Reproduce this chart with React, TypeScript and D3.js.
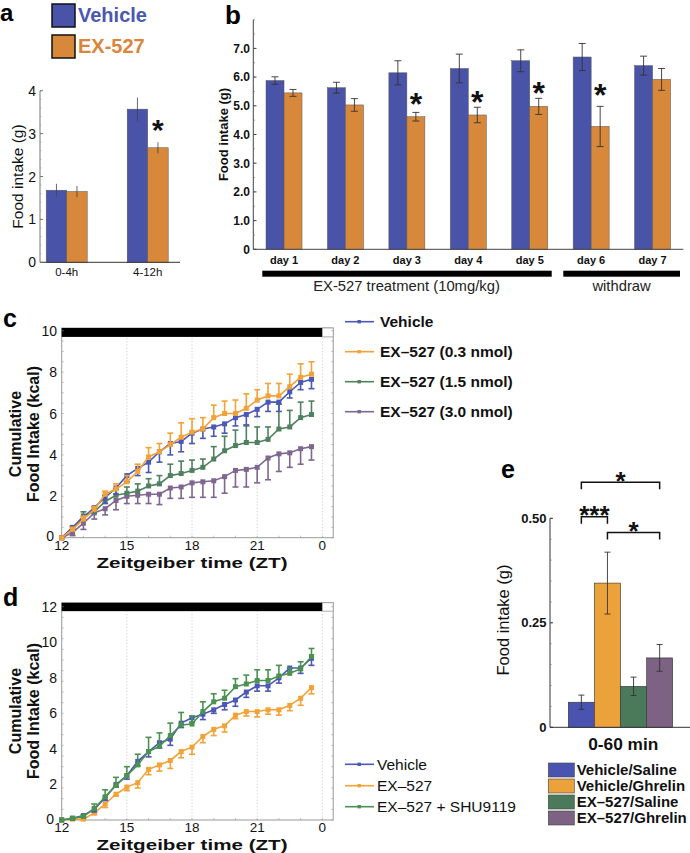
import React from 'react';
import * as d3 from 'd3';

const FONT = '"Liberation Sans", Arial, Helvetica, sans-serif';

// ---------- Panel a ----------
const A_GROUPS = ['0-4h', '4-12h'];
const A_VEH = [1.68, 3.57];
const A_VEH_ERR = [0.15, 0.27];
const A_EX = [1.65, 2.67];
const A_EX_ERR = [0.13, 0.13];
const A_Y_TICKS = [0, 1, 2, 3, 4];
const A_STARS = [null, 3.25];

// ---------- Panel b ----------
const B_DAYS = ['day 1', 'day 2', 'day 3', 'day 4', 'day 5', 'day 6', 'day 7'];
const B_VEH = [5.88, 5.63, 6.15, 6.3, 6.57, 6.7, 6.4];
const B_VEH_ERR = [0.13, 0.19, 0.42, 0.5, 0.38, 0.47, 0.33];
const B_EX = [5.45, 5.03, 4.62, 4.68, 4.98, 4.28, 5.92];
const B_EX_ERR = [0.12, 0.22, 0.15, 0.27, 0.28, 0.7, 0.38];
const B_STARS = [null, null, 5.32, 5.4, 5.72, 5.64, null];
const B_Y_TICKS = [0, 1, 2, 3, 4, 5, 6, 7];
const B_Y_LABELS = ['0', '1.0', '2.0', '3.0', '4.0', '5.0', '6.0', '7.0'];

// ---------- Panels c / d (shared time axis) ----------
const ZT = [12, 12.5, 13, 13.5, 14, 14.5, 15, 15.5, 16, 16.5, 17, 17.5, 18, 18.5, 19, 19.5, 20, 20.5, 21, 21.5, 22, 22.5, 23, 23.5];
const ZT_TICKS = [12, 15, 18, 21, 24];
const ZT_TICK_LABELS = ['12', '15', '18', '21', '0'];

const C_VEH = [0, 0.5, 1.0, 1.45, 1.95, 2.4, 3.0, 3.35, 3.65, 4.15, 4.55, 4.65, 5.05, 5.25, 5.35, 5.5, 5.8, 5.95, 6.2, 6.55, 6.55, 7.05, 7.5, 7.65];
const C_VEH_ERR = [0, 0.1, 0.15, 0.2, 0.3, 0.3, 0.3, 0.35, 0.5, 0.5, 0.55, 0.5, 0.5, 0.45, 0.45, 0.45, 0.4, 0.5, 0.35, 0.45, 0.45, 0.3, 0.35, 0.45];
const C_EX03 = [0, 0.4, 0.9, 1.35, 2.1, 2.35, 2.7, 3.2, 3.9, 4.15, 4.5, 4.85, 5.1, 5.25, 5.8, 6.0, 6.0, 6.25, 6.65, 6.85, 6.85, 7.3, 7.75, 7.9];
const C_EX03_ERR = [0, 0.1, 0.15, 0.15, 0.15, 0.25, 0.3, 0.35, 0.45, 0.4, 0.55, 0.7, 0.65, 0.55, 0.6, 0.6, 0.65, 0.7, 0.5, 0.6, 0.6, 0.6, 0.65, 0.6];
const C_EX15 = [0, 0.45, 1.05, 1.25, 1.75, 2.05, 2.15, 2.25, 2.5, 2.6, 3.0, 3.1, 3.25, 3.4, 3.8, 4.2, 4.45, 4.6, 4.6, 4.75, 5.25, 5.35, 5.8, 5.95];
const C_EX15_ERR = [0, 0.1, 0.2, 0.25, 0.3, 0.3, 0.3, 0.35, 0.35, 0.4, 0.55, 0.6, 0.5, 0.4, 0.6, 0.7, 0.75, 0.8, 0.75, 0.6, 1.2, 0.8, 0.75, 0.65];
const C_EX30 = [0, 0.25, 0.7, 1.2, 1.4, 1.8, 2.0, 2.05, 2.1, 2.1, 2.4, 2.45, 2.65, 2.7, 2.75, 2.95, 3.25, 3.3, 3.4, 3.85, 4.05, 4.1, 4.3, 4.4];
const C_EX30_ERR = [0, 0.15, 0.3, 0.3, 0.3, 0.45, 0.35, 0.4, 0.45, 0.5, 0.5, 0.55, 0.7, 0.75, 0.8, 0.8, 0.8, 0.85, 0.75, 1.05, 0.85, 0.7, 0.75, 0.65];
const C_Y_TICKS = [0, 2, 4, 6, 8, 10];
const C_LEGEND = ['Vehicle', 'EX\u2013527 (0.3 nmol)', 'EX\u2013527 (1.5 nmol)', 'EX\u2013527 (3.0 nmol)'];

const D_VEH = [0, 0.1, 0.25, 0.6, 1.25, 2.0, 2.5, 3.3, 3.85, 4.35, 4.55, 5.45, 5.75, 5.95, 6.2, 6.5, 6.75, 7.2, 7.55, 7.55, 8.0, 8.55, 8.55, 9.1];
const D_VEH_ERR = [0, 0.05, 0.1, 0.15, 0.15, 0.15, 0.2, 0.25, 0.3, 0.3, 0.35, 0.25, 0.25, 0.3, 0.2, 0.3, 0.35, 0.3, 0.3, 0.3, 0.3, 0.2, 0.3, 0.4];
const D_EX = [0, 0.05, 0.05, 0.4, 0.9, 1.45, 1.85, 2.1, 2.85, 3.1, 3.35, 3.85, 4.1, 4.7, 5.1, 5.3, 5.9, 6.1, 6.1, 6.2, 6.2, 6.45, 6.85, 7.45];
const D_EX_ERR = [0, 0.05, 0.05, 0.1, 0.2, 0.1, 0.2, 0.3, 0.3, 0.35, 0.45, 0.35, 0.4, 0.35, 0.35, 0.35, 0.2, 0.25, 0.3, 0.25, 0.3, 0.3, 0.4, 0.35];
const D_SHU = [0, 0.1, 0.2, 0.65, 1.3, 1.95, 2.5, 3.1, 3.85, 4.15, 4.75, 5.35, 5.4, 6.1, 6.65, 6.85, 7.5, 7.65, 7.85, 7.85, 8.1, 8.25, 8.5, 9.2];
const D_SHU_ERR = [0, 0.05, 0.1, 0.25, 0.4, 0.45, 0.5, 0.6, 0.8, 0.75, 0.7, 0.7, 0.45, 0.55, 0.45, 0.45, 0.45, 0.5, 0.6, 0.6, 0.6, 0.3, 0.4, 0.45];
const D_Y_TICKS = [0, 2, 4, 6, 8, 10, 12];
const D_LEGEND = ['Vehicle', 'EX\u2013527', 'EX\u2013527 + SHU9119'];

// ---------- Panel e ----------
const E_GROUPS = ['Vehicle/Saline', 'Vehicle/Ghrelin', 'EX\u2013527/Saline', 'EX\u2013527/Ghrelin'];
const E_VALUES = [0.06, 0.345, 0.098, 0.166];
const E_ERR = [0.017, 0.074, 0.022, 0.032];
const E_Y_TICKS = [0, 0.25, 0.5];
const E_Y_LABELS = ['0', '0.25', '0.50'];
const E_SIG = [
  { from: 0, to: 3, level: 0.586, label: '*' },
  { from: 0, to: 1, level: 0.504, label: '***' },
  { from: 1, to: 3, level: 0.466, label: '*' },
];

// colours
const AB_BLUE = '#4953a8';
const AB_ORANGE = '#d8883b';
const L_BLUE = '#4a58b6';
const L_ORANGE = '#f2a236';
const L_GREEN = '#4f8060';
const L_PURPLE = '#7e6690';
const D_GREEN = '#4b9251';
const E_COLORS = ['#4a53b0', '#eca23a', '#4b7a5a', '#7d6283'];

// star glyph: y is the centre of the asterisk glyph
function Star({ x, y, size, text = '*' }: { x: number; y: number; size: number; text?: string }) {
  return (
    <text x={x} y={y + size * 0.58} textAnchor="middle" fontFamily={FONT} fontWeight="bold" fontSize={size} fill="#111">
      {text}
    </text>
  );
}

function ErrBar({ x, y1, y2, cap, color = '#333', w = 1 }: any) {
  return (
    <g stroke={color} strokeWidth={w}>
      <line x1={x} x2={x} y1={y1} y2={y2} />
      <line x1={x - cap / 2} x2={x + cap / 2} y1={y1} y2={y1} />
      <line x1={x - cap / 2} x2={x + cap / 2} y1={y2} y2={y2} />
    </g>
  );
}

function PanelA() {
  const y = d3.scaleLinear().domain([0, 4]).range([262.3, 90.7]);
  const x = d3.scalePoint().domain(A_GROUPS).range([66.7, 147.7]);
  const bw = 20.5;
  const minor = d3.range(0, 4.001, 0.2);
  return (
    <g>
      <text x={0} y={21} fontFamily={FONT} fontWeight="bold" fontSize={24}>a</text>
      <rect x={52} y={4} width={23} height={23} fill={AB_BLUE} stroke="#111" strokeWidth={1.5} />
      <rect x={52} y={35} width={23} height={23} fill={AB_ORANGE} stroke="#111" strokeWidth={1.5} />
      <text x={78} y={22} fontFamily={FONT} fontWeight="bold" fontSize={20} fill="#4b57b0">Vehicle</text>
      <text x={78} y={53} fontFamily={FONT} fontWeight="bold" fontSize={20} fill="#d9863a">EX-527</text>
      {A_GROUPS.map((g, i) => {
        const cx = x(g)!;
        return (
          <g key={g}>
            <rect x={cx - bw} y={y(A_VEH[i])} width={bw} height={y(0) - y(A_VEH[i])} fill={AB_BLUE} stroke="#555" strokeWidth={0.5} />
            <rect x={cx} y={y(A_EX[i])} width={bw} height={y(0) - y(A_EX[i])} fill={AB_ORANGE} stroke="#555" strokeWidth={0.5} />
            <ErrBar x={cx - bw / 2} y1={y(A_VEH[i] - A_VEH_ERR[i])} y2={y(A_VEH[i] + A_VEH_ERR[i])} cap={0} color="#444" w={0.8} />
            <ErrBar x={cx + bw / 2} y1={y(A_EX[i] - A_EX_ERR[i])} y2={y(A_EX[i] + A_EX_ERR[i])} cap={0} color="#444" w={0.8} />
            {A_STARS[i] != null && <Star x={cx + bw / 2} y={y(A_STARS[i] as number)} size={30} />}
            <text x={cx} y={276} textAnchor="middle" fontFamily={FONT} fontSize={11.5} fill="#111">{g}</text>
          </g>
        );
      })}
      <line x1={40} x2={40} y1={y(0)} y2={y(4)} stroke="#777" strokeWidth={1} />
      <line x1={40} x2={180} y1={y(0)} y2={y(0)} stroke="#333" strokeWidth={1} />
      {minor.map((t) => (
        <line key={t} x1={40} x2={41.5} y1={y(t)} y2={y(t)} stroke="#999" strokeWidth={0.6} />
      ))}
      {A_Y_TICKS.map((t) => (
        <g key={t}>
          <line x1={40} x2={43} y1={y(t)} y2={y(t)} stroke="#777" />
          <text x={36} y={y(t) + 5} textAnchor="end" fontFamily={FONT} fontSize={14} fill="#111">{t}</text>
        </g>
      ))}
      <text transform={`translate(22.5,${y(2)}) rotate(-90)`} textAnchor="middle" fontFamily={FONT} fontSize={15.5} fill="#111">Food intake (g)</text>
    </g>
  );
}

function PanelB() {
  const y = d3.scaleLinear().domain([0, 8]).range([249.3, 19.7]);
  const x = d3.scaleBand().domain(B_DAYS).range([253.3, 683.3]);
  const bw = 18;
  const minor = d3.range(0, 8.001, 0.5);
  return (
    <g>
      <text x={225} y={23.5} fontFamily={FONT} fontWeight="bold" fontSize={26}>b</text>
      {B_DAYS.map((d, i) => {
        const cx = x(d)! + x.bandwidth() / 2;
        return (
          <g key={d}>
            <rect x={cx - bw} y={y(B_VEH[i])} width={bw} height={y(0) - y(B_VEH[i])} fill={AB_BLUE} stroke="#555" strokeWidth={0.5} />
            <rect x={cx} y={y(B_EX[i])} width={bw} height={y(0) - y(B_EX[i])} fill={AB_ORANGE} stroke="#555" strokeWidth={0.5} />
            <ErrBar x={cx - bw / 2} y1={y(B_VEH[i] - B_VEH_ERR[i])} y2={y(B_VEH[i] + B_VEH_ERR[i])} cap={7} color="#333" w={0.9} />
            <ErrBar x={cx + bw / 2} y1={y(B_EX[i] - B_EX_ERR[i])} y2={y(B_EX[i] + B_EX_ERR[i])} cap={7} color="#333" w={0.9} />
            {B_STARS[i] != null && <Star x={cx + bw / 2} y={y(B_STARS[i] as number)} size={32} />}
            <text x={cx} y={263.5} textAnchor="middle" fontFamily={FONT} fontWeight="bold" fontSize={11} fill="#111">{d}</text>
          </g>
        );
      })}
      <line x1={253.3} x2={253.3} y1={y(0)} y2={y(8)} stroke="#444" strokeWidth={1} />
      <line x1={253.3} x2={683.3} y1={y(0)} y2={y(0)} stroke="#444" strokeWidth={1} />
      {minor.map((t) => (
        <line key={t} x1={253.3} x2={255} y1={y(t)} y2={y(t)} stroke="#666" strokeWidth={0.6} />
      ))}
      {B_Y_TICKS.map((t, i) => (
        <g key={t}>
          <line x1={253.3} x2={256.5} y1={y(t)} y2={y(t)} stroke="#444" />
          <text x={250} y={y(t) + 4.3} textAnchor="end" fontFamily={FONT} fontWeight="bold" fontSize={12} fill="#111">{B_Y_LABELS[i]}</text>
        </g>
      ))}
      <text transform={`translate(228,${y(4.0)}) rotate(-90)`} textAnchor="middle" fontFamily={FONT} fontWeight="bold" fontSize={13} fill="#111">Food intake (g)</text>
      <rect x={262.3} y={270.7} width={551.7 - 262.3} height={6} fill="#000" />
      <rect x={563.3} y={270.7} width={680 - 563.3} height={6} fill="#000" />
      <text x={406.5} y={291} textAnchor="middle" fontFamily={FONT} fontSize={14.8} fill="#222">EX-527 treatment (10mg/kg)</text>
      <text x={621.6} y={291} textAnchor="middle" fontFamily={FONT} fontSize={14.8} fill="#222">withdraw</text>
    </g>
  );
}

type Series = { values: number[]; err: number[]; dir: 1 | -1; color: string };

function LinePanel({ y0px, yMax, yMaxPx, boxTop, barLow, yTicks, series, letter, letterY, xLabelY, titleY, ylabelCY, legend, legendY, legendBold, legendColors }: any) {
  const x = d3.scaleLinear().domain([12, 24.5]).range([61.7, 333.2]);
  const y = d3.scaleLinear().domain([0, yMax]).range([y0px, yMaxPx]);
  const line = d3.line<number>().x((_, i) => x(ZT[i])).y((v) => y(v));
  const minorY = d3.range(0, yMax + 0.001, yMax / 20);
  const minorX = d3.range(12, 24.5, 1);
  const ms = 5;
  return (
    <g>
      <text x={3} y={letterY} fontFamily={FONT} fontWeight="bold" fontSize={25}>{letter}</text>
      {[15, 18, 21, 24].map((t) => (
        <line key={t} x1={x(t)} x2={x(t)} y1={y(0)} y2={y(barLow)} stroke="#bbb" strokeWidth={0.7} strokeDasharray="1.2,2" />
      ))}
      <rect x={x(12)} y={y(boxTop)} width={x(24.5) - x(12)} height={y(0) - y(boxTop)} fill="none" stroke="#999" strokeWidth={1} />
      <rect x={x(12)} y={y(boxTop)} width={x(24) - x(12)} height={y(barLow) - y(boxTop)} fill="#000" />
      <rect x={x(24)} y={y(boxTop)} width={x(24.5) - x(24)} height={y(barLow) - y(boxTop)} fill="#fff" stroke="#999" strokeWidth={0.8} />
      {minorY.map((t) => (
        <g key={t}>
          <line x1={x(12)} x2={x(12) + 2} y1={y(t)} y2={y(t)} stroke="#999" strokeWidth={0.6} />
          <line x1={x(24.5)} x2={x(24.5) - 2} y1={y(t)} y2={y(t)} stroke="#999" strokeWidth={0.6} />
        </g>
      ))}
      {minorX.map((t) => (
        <line key={t} x1={x(t)} x2={x(t)} y1={y(0)} y2={y(0) - 2} stroke="#999" strokeWidth={0.6} />
      ))}
      {yTicks.map((t: number) => (
        <text key={t} x={t === 0 ? 54 : 57} y={y(t) + (t === 0 ? 3.5 : 5)} textAnchor="end" fontFamily={FONT} fontSize={14} fill="#111">{t}</text>
      ))}
      {ZT_TICKS.map((t, i) => (
        <text key={t} x={x(t)} y={xLabelY} textAnchor="middle" fontFamily={FONT} fontSize={13.5} fill="#111">{ZT_TICK_LABELS[i]}</text>
      ))}
      <text x={x(18)} y={titleY} textAnchor="middle" fontFamily={FONT} fontWeight="bold" fontSize={15.5} textLength={191} lengthAdjust="spacingAndGlyphs" fill="#111">Zeitgeiber time (ZT)</text>
      <text transform={`translate(21,${ylabelCY}) rotate(-90)`} textAnchor="middle" fontFamily={FONT} fontWeight="bold" fontSize={16} fill="#111">Cumulative</text>
      <text transform={`translate(39,${ylabelCY}) rotate(-90)`} textAnchor="middle" fontFamily={FONT} fontWeight="bold" fontSize={16} fill="#111">Food Intake (kcal)</text>
      {series.map((s: Series, k: number) => (
        <g key={k}>
          <path d={line(s.values) || ''} fill="none" stroke={s.color} strokeWidth={1.6} />
          {s.values.map((v, i) =>
            s.err[i] > 0 ? (
              <g key={i} stroke={s.color} strokeWidth={1.6}>
                <line x1={x(ZT[i])} x2={x(ZT[i])} y1={y(v)} y2={y(v + s.dir * s.err[i])} />
                <line x1={x(ZT[i]) - 3} x2={x(ZT[i]) + 3} y1={y(v + s.dir * s.err[i])} y2={y(v + s.dir * s.err[i])} />
              </g>
            ) : null
          )}
          {s.values.map((v, i) => (
            <rect key={'m' + i} x={x(ZT[i]) - ms / 2} y={y(v) - ms / 2} width={ms} height={ms} fill={s.color} />
          ))}
        </g>
      ))}
      {legend.map((name: string, i: number) => (
        <g key={name}>
          <line x1={345} x2={374} y1={legendY[i]} y2={legendY[i]} stroke={legendColors[i]} strokeWidth={1.6} />
          <rect x={357.5} y={legendY[i] - 1.7} width={3.4} height={3.4} fill={legendColors[i]} />
          <text x={legendBold ? 380 : 377} y={legendY[i] + 5.5} fontFamily={FONT} fontWeight={legendBold ? 'bold' : 'normal'} fontSize={15.5} fill="#111">{name}</text>
        </g>
      ))}
    </g>
  );
}

function PanelE() {
  const y = d3.scaleLinear().domain([0, 0.5]).range([727.3, 518.3]);
  const x = d3.scaleBand().domain(E_GROUPS).range([568.3, 672.7]);
  const bw = x.bandwidth();
  const cx = (i: number) => x(E_GROUPS[i])! + bw / 2;
  const minor = d3.range(0, 0.5001, 0.05);
  return (
    <g>
      <text x={501} y={478} fontFamily={FONT} fontWeight="bold" fontSize={25}>e</text>
      {E_GROUPS.map((g, i) => (
        <g key={g}>
          <rect x={x(g)!} y={y(E_VALUES[i])} width={bw} height={y(0) - y(E_VALUES[i])} fill={E_COLORS[i]} stroke="#333" strokeWidth={0.6} />
          <ErrBar x={cx(i)} y1={y(E_VALUES[i] - E_ERR[i])} y2={y(E_VALUES[i] + E_ERR[i])} cap={6} color="#333" w={0.9} />
        </g>
      ))}
      <line x1={550} x2={550} y1={y(0)} y2={y(0.5)} stroke="#333" strokeWidth={1} />
      <line x1={550} x2={690} y1={y(0)} y2={y(0)} stroke="#333" strokeWidth={1} />
      {minor.map((t) => (
        <line key={t} x1={550} x2={551.8} y1={y(t)} y2={y(t)} stroke="#777" strokeWidth={0.6} />
      ))}
      {E_Y_TICKS.map((t, i) => (
        <g key={t}>
          <line x1={550} x2={553} y1={y(t)} y2={y(t)} stroke="#333" />
          <text x={546.5} y={y(t) + 4.5} textAnchor="end" fontFamily={FONT} fontWeight="bold" fontSize={13} fill="#111">{E_Y_LABELS[i]}</text>
        </g>
      ))}
      <text transform={`translate(509,620) rotate(-90)`} textAnchor="middle" fontFamily={FONT} fontSize={16.5} fill="#111">Food intake (g)</text>
      <text x={623.3} y={750} textAnchor="middle" fontFamily={FONT} fontWeight="bold" fontSize={17.3} fill="#111">0-60 min</text>
      {E_SIG.map((s, k) => {
        const yy = y(s.level);
        return (
          <g key={k}>
            <path d={`M${cx(s.from)},${yy + 7}V${yy}H${cx(s.to)}V${yy + 7}`} fill="none" stroke="#111" strokeWidth={1.5} />
            <Star x={(cx(s.from) + cx(s.to)) / 2} y={yy - 7.5} size={26} text={s.label} />
          </g>
        );
      })}
      {E_GROUPS.map((g, i) => (
        <g key={'lg' + g}>
          <rect x={548.3} y={763 + i * 16} width={26} height={14} fill={E_COLORS[i]} stroke="#444" strokeWidth={0.6} />
          <text x={576.7} y={763 + i * 16 + 12.3} fontFamily={FONT} fontWeight="bold" fontSize={15} fill="#111">{g}</text>
        </g>
      ))}
    </g>
  );
}

export default function App() {
  const cSeries: Series[] = [
    { values: C_EX30, err: C_EX30_ERR, dir: -1, color: L_PURPLE },
    { values: C_EX15, err: C_EX15_ERR, dir: 1, color: L_GREEN },
    { values: C_VEH, err: C_VEH_ERR, dir: -1, color: L_BLUE },
    { values: C_EX03, err: C_EX03_ERR, dir: 1, color: L_ORANGE },
  ];
  const dSeries: Series[] = [
    { values: D_EX, err: D_EX_ERR, dir: -1, color: L_ORANGE },
    { values: D_VEH, err: D_VEH_ERR, dir: -1, color: L_BLUE },
    { values: D_SHU, err: D_SHU_ERR, dir: 1, color: D_GREEN },
  ];
  return (
    <svg width={690} height={853} style={{ position: 'absolute', left: 0, top: 0, background: '#fff' }}>
      <rect width={690} height={853} fill="#fff" />
      <PanelA />
      <PanelB />
      <LinePanel
        y0px={537.7} yMax={10} yMaxPx={330.7} boxTop={10.13} barLow={9.7} yTicks={C_Y_TICKS} series={cSeries}
        letter="c" letterY={327} xLabelY={550} titleY={567.5} ylabelCY={434}
        legend={C_LEGEND} legendY={[321.7, 351.7, 381.7, 411.7]} legendBold={true}
        legendColors={[L_BLUE, L_ORANGE, L_GREEN, L_PURPLE]}
      />
      <LinePanel
        y0px={820} yMax={12} yMaxPx={606.7} boxTop={12.22} barLow={11.75} yTicks={D_Y_TICKS} series={dSeries}
        letter="d" letterY={606} xLabelY={832} titleY={849.5} ylabelCY={711}
        legend={D_LEGEND} legendY={[764.3, 785.7, 806.7]} legendBold={false}
        legendColors={[L_BLUE, L_ORANGE, D_GREEN]}
      />
      <PanelE />
    </svg>
  );
}
